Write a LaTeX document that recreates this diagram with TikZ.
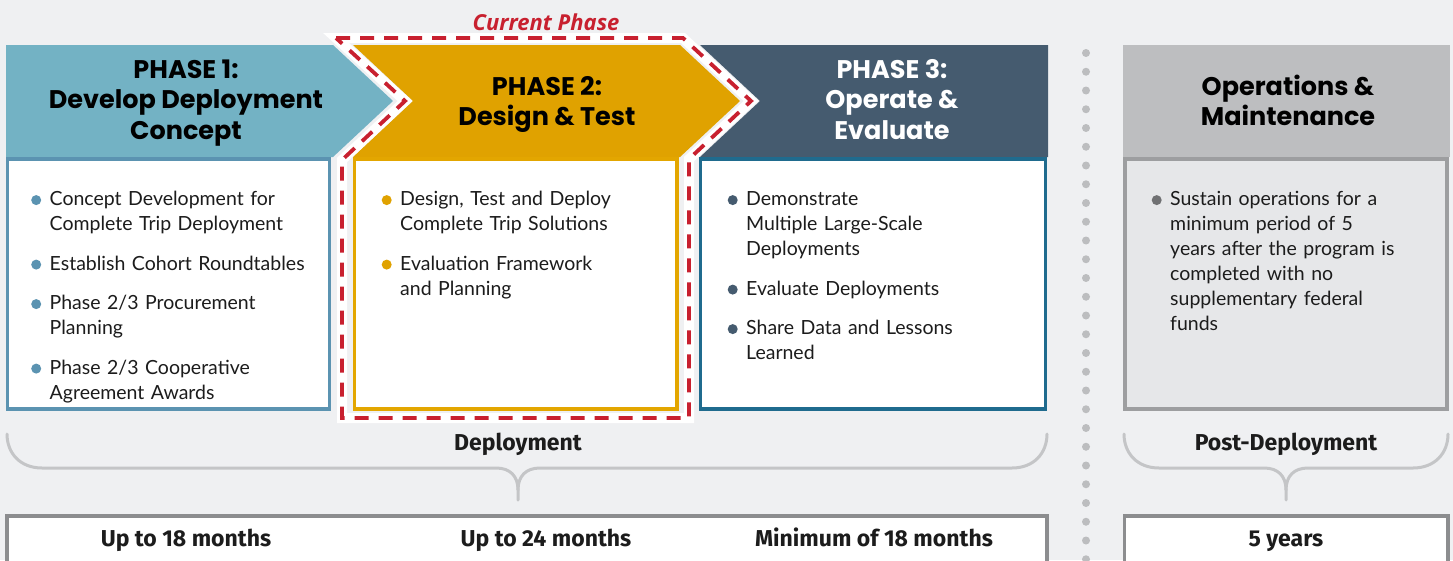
\documentclass[tikz,border=0pt]{standalone}
\usepackage{fontspec}
\setmainfont{Lato}
\newfontfamily\headfont{Poppins}
\newfontfamily\labelfont{Fira Sans}
\newfontfamily\tagfont{Open Sans}
\definecolor{bggray}{HTML}{EFF0F2}
\definecolor{onefill}{HTML}{73B2C4}
\definecolor{oneline}{HTML}{5B93B1}
\definecolor{twofill}{HTML}{E0A200}
\definecolor{twoline}{HTML}{E3A600}
\definecolor{threefill}{HTML}{455B6F}
\definecolor{threeline}{HTML}{1F6B8E}
\definecolor{opsfill}{HTML}{BDBEC0}
\definecolor{opsbody}{HTML}{E6E7E9}
\definecolor{opsline}{HTML}{9D9EA0}
\definecolor{opsdot}{HTML}{707173}
\definecolor{dashred}{HTML}{C8202F}
\definecolor{bracegray}{HTML}{C4C5C7}
\definecolor{boxgray}{HTML}{8C8D8F}
\definecolor{dotgray}{HTML}{BCBDBF}
\definecolor{inkblack}{HTML}{1C1C1C}
\newcommand{\dotitem}[2]{\par{\leftskip=18.5pt\noindent\hspace*{-18.5pt}\strut\makebox[18.5pt][l]{\tikz[baseline=0pt]\fill[#1] (5pt,5.6pt) circle[radius=5pt];}#2\par}}
\newcommand{\itemgap}{\vspace{14.5pt}}
\begin{document}
\begin{tikzpicture}[x=1pt,y=-1pt,
    headtext/.style={anchor=north,align=center,inner sep=0pt,font=\headfont\bfseries\fontsize{25.5}{30.5}\selectfont},
    itemtext/.style={anchor=north west,inner sep=0pt,text width=300pt,align=left,font=\fontsize{19.5}{25}\selectfont,text=inkblack},
    spanlabel/.style={anchor=base,inner sep=0pt,font=\labelfont\bfseries\fontsize{23}{27}\selectfont,text=inkblack},
    bodybox/.style={fill=white,line width=3.5pt},
    bracket/.style={draw=bracegray,line width=3pt,line cap=round},
    spanbox/.style={draw=boxgray,fill=white,line width=3.5pt},
    outlineband/.style={draw=white,line width=10pt,line join=miter},
    outlinedash/.style={draw=dashred,line width=3.8pt,dash pattern=on 14pt off 10pt}]
  \useasboundingbox (0,0) rectangle (1453,560);
  \fill[bggray] (0,0) rectangle (1453,560);
  % phase headers
  \fill[onefill] (6,45)--(333,45)--(393,101)--(333,157)--(6,157)--cycle;
  \fill[twofill] (353,45)--(680,45)--(740,101)--(680,157)--(353,157)--(413,101)--cycle;
  \fill[threefill] (700,45)--(1048,45)--(1048,157)--(700,157)--(760,101)--cycle;
  \fill[opsfill] (1123,45) rectangle (1450,157);
  % phase bodies
  \draw[bodybox,draw=oneline] (7.5,159) rectangle (329.5,409);
  \draw[bodybox,draw=twoline] (354.5,159) rectangle (677,409);
  \draw[bodybox,draw=threeline] (700.5,159) rectangle (1045.5,409);
  \draw[bodybox,draw=opsline,fill=opsbody] (1125,159) rectangle (1447,409);
  % current phase outline
  \draw[outlineband] (336,38)--(683,38)--(751,101)--(689,159)--(689,418)--(342,418)--(342,160)--(405,101)--cycle;
  \draw[outlinedash] (336,38)--(683,38)--(751,101)--(689,159)--(689,418)--(342,418)--(342,160)--(405,101)--cycle;
  \node[anchor=base,inner sep=0pt,text=dashred,font=\tagfont\bfseries\itshape\fontsize{22}{26}\selectfont] (current) at (546,30) {Current Phase};
  % titles
  \node[headtext] (p1title) at (186,56.6) {\strut PHASE 1:\\Develop Deployment\\Concept};
  \node[headtext] (p2title) at (547,73.6) {\strut PHASE 2:\\Design \& Test};
  \node[headtext,text=white] (p3title) at (892,56.6) {\strut PHASE 3:\\Operate \&\\Evaluate};
  \node[headtext] (opstitle) at (1288,73.6) {\strut Operations \&\\Maintenance};
  % items
  \node[itemtext] (p1items) at (31,180.5) {%
    \dotitem{oneline}{Concept Development for\\Complete Trip Deployment}\itemgap
    \dotitem{oneline}{Establish Cohort Roundtables}\itemgap
    \dotitem{oneline}{Phase 2/3 Procurement\\Planning}\itemgap
    \dotitem{oneline}{Phase 2/3 Cooperative\\Agreement Awards}};
  \node[itemtext] (p2items) at (381.5,180.5) {%
    \dotitem{twofill}{Design, Test and Deploy\\Complete Trip Solutions}\itemgap
    \dotitem{twofill}{Evaluation Framework\\and Planning}};
  \node[itemtext] (p3items) at (727.5,180.5) {%
    \dotitem{threefill}{Demonstrate\\Multiple Large-Scale\\Deployments}\itemgap
    \dotitem{threefill}{Evaluate Deployments}\itemgap
    \dotitem{threefill}{Share Data and Lessons\\Learned}};
  \node[itemtext] (opsitems) at (1151.5,180.5) {%
    \dotitem{opsdot}{Sustain operations for a\\minimum period of 5\\years after the program is\\completed with no\\supplementary federal\\funds}};
  % braces
  \draw[bracket] (7,434) .. controls (7,453) and (20,468) .. (42,468) -- (496,468)
    .. controls (510,468) and (518,476) .. (518,490) -- (518,500);
  \draw[bracket] (518,490) .. controls (518,476) and (526,468) .. (540,468) -- (1012,468)
    .. controls (1034,468) and (1047,453) .. (1047,434);
  \draw[bracket] (1124,434) .. controls (1124,453) and (1137,468) .. (1159,468) -- (1264,468)
    .. controls (1278,468) and (1286,476) .. (1286,490) -- (1286,500);
  \draw[bracket] (1286,490) .. controls (1286,476) and (1294,468) .. (1308,468) -- (1413,468)
    .. controls (1435,468) and (1448,453) .. (1448,434);
  \node[spanlabel] (deploy) at (518,450) {Deployment};
  \node[spanlabel] (postdeploy) at (1286,450) {Post-Deployment};
  % durations
  \draw[spanbox] (7,516) rectangle (1047,585);
  \draw[spanbox] (1124.5,516) rectangle (1448,585);
  \node[spanlabel] (dur1) at (186,546) {Up to 18 months};
  \node[spanlabel] (dur2) at (546,546) {Up to 24 months};
  \node[spanlabel] (dur3) at (874,546) {Minimum of 18 months};
  \node[spanlabel] (dur4) at (1286,546) {5 years};
  % divider
  \foreach \i in {0,...,27}
    \fill[dotgray] (1086,{53+18.75*\i}) circle[radius=4pt];
\end{tikzpicture}
\end{document}
